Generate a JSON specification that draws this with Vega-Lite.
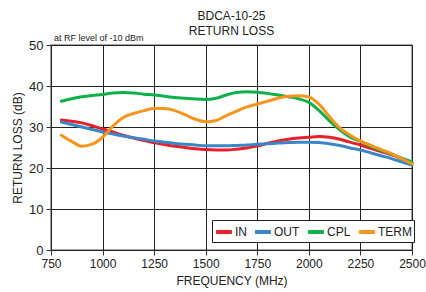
{
  "$schema": "https://vega.github.io/schema/vega-lite/v6.json",
  "width": 361,
  "height": 205,
  "autosize": "none",
  "padding": {"left": 51, "top": 45, "right": 14, "bottom": 42},
  "background": "white",
  "config": {
    "font": "Liberation Sans",
    "view": {"stroke": "#888", "strokeWidth": 1.5}
  },
  "title": {
    "text": ["BDCA-10-25", "RETURN LOSS"],
    "fontSize": 12,
    "fontWeight": "normal",
    "color": "#222",
    "lineHeight": 15,
    "offset": -4,
    "anchor": "middle"
  },
  "data": {
    "values": [
      {"f": 800, "IN": 31.7, "OUT": 31.2, "CPL": 36.3, "TERM": 28.0},
      {"f": 850, "IN": 31.4, "OUT": 30.6, "CPL": 36.9, "TERM": 26.5},
      {"f": 900, "IN": 31.0, "OUT": 30.0, "CPL": 37.4, "TERM": 25.3},
      {"f": 950, "IN": 30.3, "OUT": 29.4, "CPL": 37.7, "TERM": 25.8},
      {"f": 1000, "IN": 29.5, "OUT": 28.8, "CPL": 37.9, "TERM": 27.5},
      {"f": 1050, "IN": 28.8, "OUT": 28.3, "CPL": 38.3, "TERM": 30.2},
      {"f": 1100, "IN": 28.0, "OUT": 27.8, "CPL": 38.4, "TERM": 32.3},
      {"f": 1150, "IN": 27.3, "OUT": 27.4, "CPL": 38.3, "TERM": 33.3},
      {"f": 1200, "IN": 26.7, "OUT": 27.0, "CPL": 38.0, "TERM": 34.0},
      {"f": 1250, "IN": 26.2, "OUT": 26.6, "CPL": 37.8, "TERM": 34.5},
      {"f": 1300, "IN": 25.7, "OUT": 26.3, "CPL": 37.5, "TERM": 34.5},
      {"f": 1350, "IN": 25.3, "OUT": 26.0, "CPL": 37.2, "TERM": 34.0},
      {"f": 1400, "IN": 25.0, "OUT": 25.8, "CPL": 37.0, "TERM": 33.0},
      {"f": 1450, "IN": 24.7, "OUT": 25.6, "CPL": 36.8, "TERM": 31.9},
      {"f": 1500, "IN": 24.5, "OUT": 25.4, "CPL": 36.7, "TERM": 31.3},
      {"f": 1550, "IN": 24.4, "OUT": 25.4, "CPL": 37.0, "TERM": 31.6},
      {"f": 1600, "IN": 24.4, "OUT": 25.4, "CPL": 37.8, "TERM": 32.8},
      {"f": 1650, "IN": 24.6, "OUT": 25.5, "CPL": 38.4, "TERM": 33.9},
      {"f": 1700, "IN": 24.9, "OUT": 25.6, "CPL": 38.6, "TERM": 34.9},
      {"f": 1750, "IN": 25.4, "OUT": 25.8, "CPL": 38.5, "TERM": 35.6},
      {"f": 1800, "IN": 26.0, "OUT": 25.9, "CPL": 38.2, "TERM": 36.3},
      {"f": 1850, "IN": 26.6, "OUT": 26.1, "CPL": 37.8, "TERM": 37.0},
      {"f": 1900, "IN": 27.0, "OUT": 26.2, "CPL": 37.4, "TERM": 37.5},
      {"f": 1950, "IN": 27.3, "OUT": 26.3, "CPL": 36.9, "TERM": 37.6},
      {"f": 2000, "IN": 27.5, "OUT": 26.3, "CPL": 36.0, "TERM": 37.3},
      {"f": 2050, "IN": 27.7, "OUT": 26.2, "CPL": 34.0, "TERM": 35.5},
      {"f": 2100, "IN": 27.5, "OUT": 25.9, "CPL": 31.5, "TERM": 32.5},
      {"f": 2150, "IN": 27.0, "OUT": 25.5, "CPL": 29.3, "TERM": 29.8},
      {"f": 2200, "IN": 26.3, "OUT": 24.9, "CPL": 27.5, "TERM": 28.0},
      {"f": 2250, "IN": 25.6, "OUT": 24.4, "CPL": 26.5, "TERM": 26.6},
      {"f": 2300, "IN": 24.8, "OUT": 23.7, "CPL": 25.3, "TERM": 25.5},
      {"f": 2350, "IN": 24.0, "OUT": 23.0, "CPL": 24.3, "TERM": 24.5},
      {"f": 2400, "IN": 23.2, "OUT": 22.3, "CPL": 23.4, "TERM": 23.5},
      {"f": 2450, "IN": 22.3, "OUT": 21.5, "CPL": 22.4, "TERM": 22.3},
      {"f": 2500, "IN": 21.2, "OUT": 20.7, "CPL": 21.5, "TERM": 21.0}
    ]
  },
  "layer": [
    {
      "transform": [{"fold": ["IN", "OUT", "CPL", "TERM"], "as": ["series", "value"]}],
      "mark": {"type": "line", "strokeWidth": 3, "interpolate": "monotone", "strokeCap": "round"},
      "encoding": {
        "x": {
          "field": "f",
          "type": "quantitative",
          "scale": {"domain": [750, 2500], "nice": false, "zero": false},
          "axis": {
            "title": "FREQUENCY (MHz)",
            "values": [750, 1000, 1250, 1500, 1750, 2000, 2250, 2500],
            "format": "d",
            "grid": true,
            "gridColor": "#222",
            "gridOpacity": 1,
            "gridWidth": 1,
            "domain": false,
            "tickColor": "#333",
            "tickSize": 5,
            "labelFontSize": 12,
            "labelColor": "#222",
            "labelPadding": 3,
            "labelFlush": false,
            "titleFontSize": 12,
            "titleFontWeight": "normal",
            "titleColor": "#222",
            "titlePadding": 6
          }
        },
        "y": {
          "field": "value",
          "type": "quantitative",
          "scale": {"domain": [0, 50], "nice": false},
          "axis": {
            "title": "RETURN LOSS (dB)",
            "values": [0, 10, 20, 30, 40, 50],
            "format": "d",
            "grid": true,
            "gridColor": "#222",
            "gridOpacity": 1,
            "gridWidth": 1,
            "domain": false,
            "tickColor": "#333",
            "tickSize": 5,
            "labelFontSize": 13,
            "labelColor": "#222",
            "labelPadding": 3,
            "titleFontSize": 12,
            "titleFontWeight": "normal",
            "titleColor": "#222",
            "titlePadding": 4
          }
        },
        "color": {
          "field": "series",
          "type": "nominal",
          "scale": {
            "domain": ["IN", "OUT", "CPL", "TERM"],
            "range": ["#e8202a", "#3a87c8", "#0db04b", "#f7941d"]
          },
          "legend": {
            "title": null,
            "orient": "none",
            "legendX": 161,
            "legendY": 175,
            "direction": "horizontal",
            "gridAlign": "none",
            "symbolType": "stroke",
            "symbolStrokeWidth": 4,
            "symbolSize": 250,
            "labelFontSize": 12,
            "labelColor": "#222",
            "labelOffset": 1,
            "columnPadding": 0,
            "padding": 2,
            "strokeColor": "#222",
            "fillColor": "white"
          }
        }
      }
    },
    {
      "data": {"values": [{"f": 750, "value": 50, "label": "at RF level of -10 dBm"}]},
      "mark": {"type": "text", "align": "left", "baseline": "alphabetic", "dx": 3, "dy": -4, "fontSize": 9, "color": "#222"},
      "encoding": {
        "x": {"field": "f", "type": "quantitative"},
        "y": {"field": "value", "type": "quantitative"},
        "text": {"field": "label"}
      }
    }
  ]
}
